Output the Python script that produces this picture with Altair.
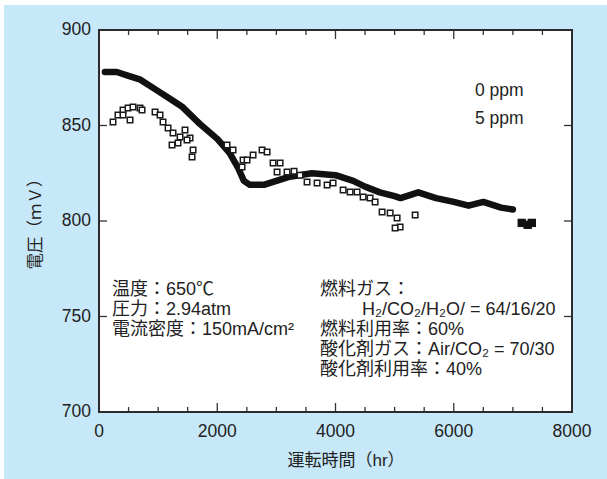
import altair as alt
import pandas as pd

# ---------------- data ----------------
# 0 ppm series (thick black trace)
hr_0ppm = [100, 300, 500, 700, 1000, 1200, 1400, 1700, 2000, 2200, 2350, 2450, 2550,
           2800, 3000, 3200, 3600, 4000, 4300, 4500, 4750, 5000, 5100, 5400, 5700,
           6000, 6250, 6500, 6800, 7000]
mv_0ppm = [878, 878, 876, 874, 868, 864, 860, 851, 843, 836, 828, 821, 819,
           819, 821, 823, 825, 824, 821, 818, 815, 813, 812, 815, 812,
           810, 808, 810, 807, 806]
# isolated black points at the end of the 0 ppm run
hr_0ppm_end = [7150, 7250, 7320]
mv_0ppm_end = [799, 798, 799]

# 5 ppm series (open squares)
hr_5ppm = [237, 321, 406, 491, 575, 694, 728, 525, 406,
           948, 1032, 1083, 1168, 1252, 1235, 1371, 1455, 1540, 1591, 1574, 1489, 1337,
           2166, 2267, 2437, 2606, 2758, 2843, 2420, 2944, 3063, 3012, 3181, 2504,
           3300, 3400, 3519, 3689, 3858, 3959, 4129, 4247, 4365, 4467, 4585, 4670,
           4788, 4924, 5042, 5093, 5008, 5347]
mv_5ppm = [851.8, 855.5, 858.1, 859.2, 859.7, 859.2, 858.1, 852.9, 855.5,
           857.1, 855.5, 851.8, 848.7, 846.1, 839.8, 844.0, 847.6, 843.5, 837.2, 833.5, 842.4, 840.8,
           839.8, 837.2, 831.9, 834.6, 837.2, 836.1, 828.3, 830.4, 830.4, 825.7, 825.7, 831.9,
           826.0, 824.0, 820.4, 819.9, 818.8, 819.9, 816.2, 815.2, 815.2, 812.6, 812.0, 809.9,
           804.7, 804.2, 801.6, 796.9, 796.3, 803.1]

x_ticks_major = [2000, 4000, 6000]
x_ticks_minor = [500, 1000, 1500, 2500, 3000, 3500, 4500, 5000, 5500, 6500, 7000, 7500]
y_ticks = [750, 800, 850]
x_labels = [0, 2000, 4000, 6000, 8000]
y_labels = [700, 750, 800, 850, 900]

legend_texts = ["0 ppm", "5 ppm"]
cond_left = ["温度：650℃", "圧力：2.94atm", "電流密度：150mA/cm²"]
cond_right = ["燃料ガス：", "H₂/CO₂/H₂O/ = 64/16/20", "燃料利用率：60%",
              "酸化剤ガス：Air/CO₂ = 70/30", "酸化剤利用率：40%"]

x_title = "運転時間（hr）"
y_title = "電圧（ｍＶ）"

# ---------------- layout ----------------
W, H = 473, 382
PAD = {"left": 99, "top": 30, "right": 35, "bottom": 67}
FONT = "Liberation Sans, Noto Sans CJK JP, sans-serif"
TXT = "#222222"
BLUE = "#c7e8f9"

xs = alt.Scale(domain=[0, 8000], nice=False, zero=False)
ys = alt.Scale(domain=[700, 900], nice=False, zero=False)

one = pd.DataFrame({"k": [0]})
df0 = pd.DataFrame({"hr": hr_0ppm, "mV": mv_0ppm})
df0e = pd.DataFrame({"hr": hr_0ppm_end, "mV": mv_0ppm_end})
df5 = pd.DataFrame({"hr": hr_5ppm, "mV": mv_5ppm})

bg = alt.Chart(one).mark_rect(color=BLUE).encode(
    x=alt.value(-95), x2=alt.value(508), y=alt.value(-25), y2=alt.value(449))
white = alt.Chart(one).mark_rect(color="white").encode(
    x=alt.value(0), x2=alt.value(W), y=alt.value(0), y2=alt.value(H))

line0 = alt.Chart(df0).mark_line(color="#111111", strokeWidth=6.5, strokeCap="round",
                                 strokeJoin="round").encode(
    x=alt.X("hr:Q", scale=xs, axis=None),
    y=alt.Y("mV:Q", scale=ys, axis=None))

end0 = alt.Chart(df0e).mark_square(size=70, color="#111111", opacity=1).encode(
    x=alt.X("hr:Q", scale=xs, axis=None), y=alt.Y("mV:Q", scale=ys, axis=None))

pts5 = alt.Chart(df5).mark_square(size=30, fill="white", stroke="#1a1a1a",
                                  strokeWidth=1.5, opacity=1).encode(
    x=alt.X("hr:Q", scale=xs, axis=None), y=alt.Y("mV:Q", scale=ys, axis=None))


def xtick(vals, y0, y1):
    return alt.Chart(pd.DataFrame({"hr": vals})).mark_rule(color="#333333", strokeWidth=1.3).encode(
        x=alt.X("hr:Q", scale=xs, axis=None), y=alt.value(y0), y2=alt.value(y1))


def ytick(vals, x0, x1):
    return alt.Chart(pd.DataFrame({"mV": vals})).mark_rule(color="#333333", strokeWidth=1.3).encode(
        y=alt.Y("mV:Q", scale=ys, axis=None), x=alt.value(x0), x2=alt.value(x1))


ticks = [
    xtick(x_ticks_major, H, H - 9), xtick(x_ticks_minor, H, H - 5),
    xtick(x_ticks_major, 0, 9), xtick(x_ticks_minor, 0, 5),
    ytick(y_ticks, 0, 8), ytick(y_ticks, W - 8, W),
]

frame = alt.Chart(one).mark_rect(fill="white", fillOpacity=0, stroke="#2b2b2b",
                                 strokeWidth=2).encode(
    x=alt.value(0), x2=alt.value(W), y=alt.value(0), y2=alt.value(H))

# axis tick labels placed through the scales
xlab = alt.Chart(pd.DataFrame({"hr": x_labels})).mark_text(
    align="center", baseline="middle", font=FONT, fontSize=17.5, color=TXT).encode(
    x=alt.X("hr:Q", scale=xs, axis=None), y=alt.value(H + 20),
    text=alt.Text("hr:Q", format="d"))
ylab = alt.Chart(pd.DataFrame({"mV": y_labels})).mark_text(
    align="right", baseline="middle", font=FONT, fontSize=17.5, color=TXT).encode(
    y=alt.Y("mV:Q", scale=ys, axis=None), x=alt.value(-8),
    text=alt.Text("mV:Q", format="d"))


def label(text, px, py, size=17.5, angle=None, align="left"):
    kw = dict(align=align, baseline="middle", font=FONT, fontSize=size, color=TXT)
    if angle is not None:
        kw["angle"] = angle
    return alt.Chart(pd.DataFrame({"t": [text]})).mark_text(**kw).encode(
        text="t:N", x=alt.value(px - PAD["left"]), y=alt.value(py - PAD["top"]))


texts = [label(legend_texts[0], 475, 91), label(legend_texts[1], 475, 119)]
for i, t in enumerate(cond_left):
    texts.append(label(t, 112, 290 + 20 * i, size=18))
right_x = [320, 362, 320, 320, 320]
for i, t in enumerate(cond_right):
    texts.append(label(t, right_x[i], 290 + 20 * i, size=18))
texts.append(label(x_title, 346, 461, size=17, align="center"))
texts.append(label(y_title, 36, 220, size=16.5, angle=270, align="center"))

chart = alt.layer(bg, white, line0, end0, pts5, *ticks, frame, xlab, ylab, *texts).properties(
    width=W, height=H,
    autosize=alt.AutoSizeParams(type="none"),
    padding=PAD,
    background="white",
).configure_view(stroke=None)

chart.save("out.html", embed_options={"renderer": "svg", "actions": False})
